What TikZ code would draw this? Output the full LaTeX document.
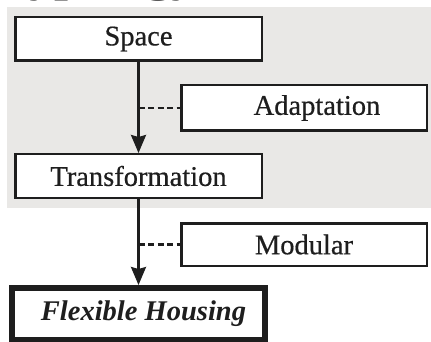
\documentclass[tikz,border=0pt]{standalone}
\usepackage{fontspec}
\setmainfont{Liberation Serif}
\usetikzlibrary{arrows.meta}
\definecolor{bggray}{RGB}{233,232,230}
\definecolor{ink}{RGB}{30,30,30}
\begin{document}
\begin{tikzpicture}[x=1pt,y=-1pt,
  box/.style={draw=ink, line width=2.5pt, fill=white, text=ink, font=\fontsize{28.5}{30}\selectfont\addfontfeature{FakeBold=0.5}, inner sep=0pt},
  flow/.style={line width=2.5pt, draw=ink, -{Stealth[length=18pt,width=15pt,inset=2pt]}},
  link/.style={line width=2.2pt, draw=ink, dash pattern=on 6pt off 3.5pt}]
\useasboundingbox (0,0) rectangle (431,342);
\begin{scope}
\clip (0,0) rectangle (431,342);
\node[anchor=base west, inner sep=0pt, font=\fontsize{50}{50}\bfseries\selectfont, text=black!65] (title) at (0,-9.5) {Typology};
\fill[bggray] (7,7) rectangle (431,208);
\node[box, minimum width=246.5pt, minimum height=43.5pt] (space) at (138.5,39) {Space};
\node[box, minimum width=245.5pt, minimum height=45.5pt] (adapt) at (304,108) {\hspace*{26pt}Adaptation};
\node[box, minimum width=246.5pt, minimum height=43.5pt] (trans) at (138.5,176) {Transformation};
\node[box, minimum width=245.5pt, minimum height=42.5pt] (modular) at (304,244.5) {Modular};
\node[box, line width=4pt, minimum width=255pt, minimum height=54pt, font=\fontsize{28.5}{30}\bfseries\itshape\selectfont] (flex) at (138.5,314) {\hspace*{10pt}Flexible Housing};
\draw[line width=1.2pt, draw=ink] ([shift={(5,5)}]flex.north west) rectangle ([shift={(-5,-5)}]flex.south east);
\draw[flow] (space) -- (trans);
\draw[flow] (trans) -- (flex);
\draw[link] (adapt.west -| space.south) -- (adapt.west);
\draw[link] (modular.west -| trans.south) -- (modular.west);
\end{scope}
\end{tikzpicture}
\end{document}
